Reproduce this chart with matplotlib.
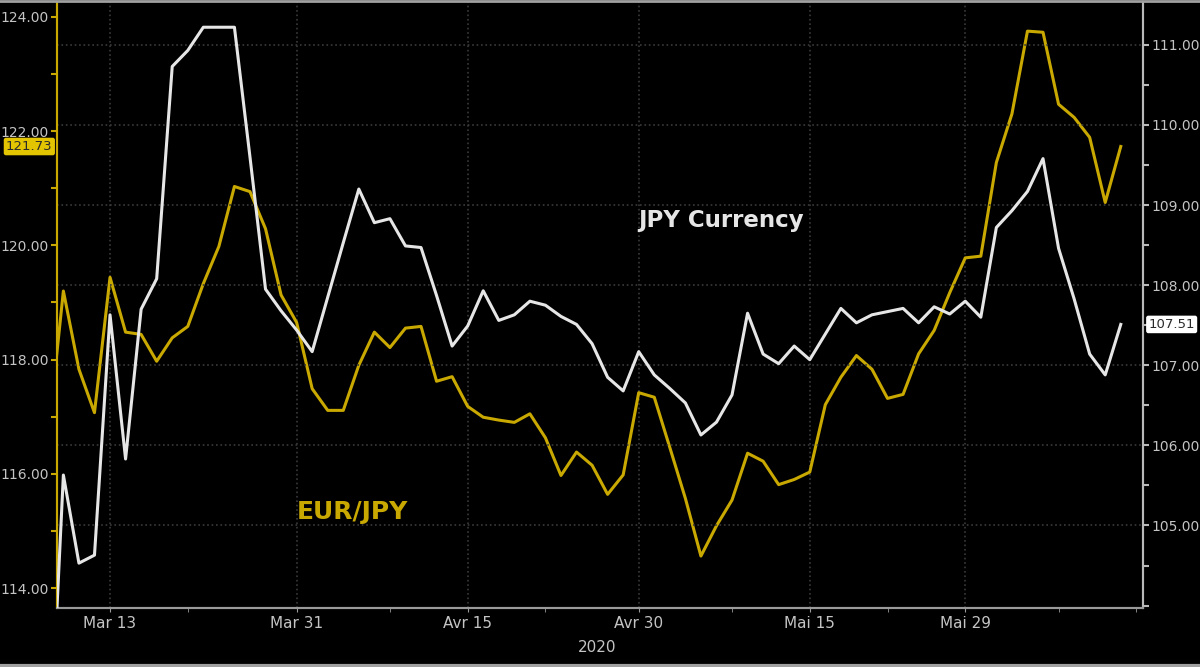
import matplotlib
matplotlib.use('Agg')
import matplotlib.pyplot as plt
import matplotlib.transforms as mtransforms
from matplotlib.lines import Line2D
from matplotlib.ticker import FixedLocator, FormatStrFormatter

# business-day index, Mar 9 2020 -> Jun 12 2020
tick_pos = [4, 16, 27, 38, 49, 59]
tick_labels = ['Mar 13', 'Mar 31', 'Avr 15', 'Avr 30', 'Mai 15', 'Mai 29']
minor_pos = [9, 22, 32, 44, 54, 65, 70]

eurjpy = [116.6, 119.20, 117.83, 117.07, 119.44, 118.48, 118.44, 117.97, 118.38, 118.58,
          119.33, 119.98, 121.03, 120.94, 120.29, 119.13, 118.65, 117.49, 117.11, 117.11,
          117.90, 118.48, 118.21, 118.55, 118.58, 117.62, 117.70, 117.18, 116.99, 116.94,
          116.90, 117.05, 116.63, 115.97, 116.38, 116.15, 115.64, 115.98, 117.42, 117.34,
          116.46, 115.57, 114.56, 115.09, 115.54, 116.36, 116.22, 115.81, 115.90, 116.03,
          117.21, 117.69, 118.07, 117.83, 117.32, 117.39, 118.10, 118.51, 119.17, 119.78,
          119.81, 121.45, 122.30, 123.75, 123.73, 122.47, 122.24, 121.89, 120.75, 121.73]

usdjpy = [101.6, 105.63, 104.53, 104.63, 107.63, 105.83, 107.70, 108.08, 110.73, 110.93,
          111.22, 111.22, 111.22, 109.60, 107.95, 107.68, 107.44, 107.17, 107.85, 108.53,
          109.20, 108.78, 108.83, 108.49, 108.47, 107.87, 107.24, 107.49, 107.93, 107.56,
          107.63, 107.80, 107.75, 107.61, 107.51, 107.27, 106.85, 106.68, 107.17, 106.88,
          106.71, 106.53, 106.13, 106.29, 106.63, 107.65, 107.14, 107.02, 107.24, 107.07,
          107.39, 107.71, 107.53, 107.63, 107.67, 107.71, 107.53, 107.73, 107.64, 107.80,
          107.60, 108.72, 108.93, 109.17, 109.58, 108.46, 107.83, 107.14, 106.88, 107.51]

left_ticks = [114, 116, 118, 120, 122, 124]
right_ticks = [105, 106, 107, 108, 109, 110, 111]

YELLOW = '#c9a900'
WHITE = '#e6e6e6'
LABEL = '#c4c4c4'
GRID = '#3a3a3a'

x = list(range(len(eurjpy)))

fig = plt.figure(figsize=(12, 6.67), dpi=100, facecolor='black')
ax = fig.add_axes([57 / 1200, 59 / 667, 1086 / 1200, 606 / 667])
ax.set_facecolor('black')
ax2 = ax.twinx()

ax.plot(x, eurjpy, color=YELLOW, lw=2.2, zorder=3)
ax2.plot(x, usdjpy, color=WHITE, lw=2.2, zorder=3)

ax.set_xlim(0.59, 70.43)
ax.set_ylim(113.65, 124.26)
ax2.set_ylim(103.97, 111.535)

# left axis (EUR/JPY)
ax.yaxis.set_major_locator(FixedLocator(left_ticks))
ax.yaxis.set_minor_locator(FixedLocator([115, 117, 119, 121, 123]))
ax.yaxis.set_major_formatter(FormatStrFormatter('%.2f'))
ax.tick_params(axis='y', which='both', colors=YELLOW, labelcolor=LABEL,
               labelsize=10, length=4, width=1.5, pad=2)

# right axis (USD/JPY)
ax2.yaxis.set_major_locator(FixedLocator(right_ticks))
ax2.yaxis.set_minor_locator(FixedLocator([104, 104.5, 105.5, 106.5, 107.5, 108.5,
                                          109.5, 110.5]))
ax2.yaxis.set_major_formatter(FormatStrFormatter('%.2f'))
ax2.tick_params(axis='y', which='both', colors='#b8b8b8', labelcolor=LABEL,
                labelsize=10, length=4, width=1.5, pad=2)
ax2.grid(True, axis='y', color=GRID, linestyle=':', linewidth=1.2)

# x axis
ax.set_xticks(tick_pos)
ax.set_xticklabels(tick_labels)
ax.set_xticks(minor_pos, minor=True)
ax.tick_params(axis='x', which='both', colors='#9a9a9a', labelcolor=LABEL,
               labelsize=11, length=3, pad=3)
ax.grid(True, axis='x', color=GRID, linestyle=':', linewidth=1.2)

for a in (ax, ax2):
    a.spines['top'].set_visible(False)
    a.spines['left'].set_color(YELLOW)
    a.spines['left'].set_linewidth(1.5)
    a.spines['right'].set_color('#b8b8b8')
    a.spines['right'].set_linewidth(1.5)
    a.spines['bottom'].set_color('#9a9a9a')
    a.spines['bottom'].set_linewidth(1.5)

fig.text(597 / 1200, 1 - 647 / 667, '2020', color=LABEL, fontsize=11,
         ha='center', va='center')

# series labels
ax.text(0.535, 0.639, 'JPY Currency', transform=ax.transAxes, color=WHITE,
        fontsize=16.5, fontweight='bold', ha='left', va='center')
ax.text(0.221, 0.158, 'EUR/JPY', transform=ax.transAxes, color=YELLOW,
        fontsize=18, fontweight='bold', ha='left', va='center')

# last value tags
tl = mtransforms.blended_transform_factory(ax.transAxes, ax.transData)
ax.text(-0.004, eurjpy[-1], '%.2f' % eurjpy[-1], transform=tl, color='#2a2a2a',
        fontsize=9.5, ha='right', va='center', zorder=6, clip_on=False,
        bbox=dict(boxstyle='round,pad=0.12', fc='#e3c400', ec='#e3c400'))
tr = mtransforms.blended_transform_factory(ax2.transAxes, ax2.transData)
ax2.text(1.005, usdjpy[-1], '%.2f' % usdjpy[-1], transform=tr, color='#2a2a2a',
         fontsize=9.5, ha='left', va='center', zorder=6, clip_on=False,
         bbox=dict(boxstyle='round,pad=0.12', fc='white', ec='white'))

# screenshot border lines
fig.add_artist(Line2D([0, 1], [0.999, 0.999], transform=fig.transFigure,
                      color='#a0a0a0', lw=2))
fig.add_artist(Line2D([0, 1], [0.002, 0.002], transform=fig.transFigure,
                      color='#a0a0a0', lw=3))

fig.savefig('out.png', dpi=100, facecolor='black')
